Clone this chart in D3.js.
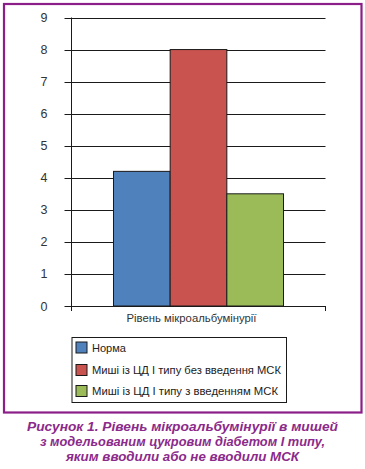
<!DOCTYPE html>
<html><head><meta charset="utf-8">
<script src="https://cdn.jsdelivr.net/npm/d3@7"></script>
<style>
html,body{margin:0;padding:0;background:#fff;}
svg{display:block;}
</style></head>
<body>
<script>
const categories = ["Рівень мікроальбумінурії"];
const seriesNames = ["Норма", "Миші із ЦД І типу без введення МСК", "Миші із ЦД І типу з введенням МСК"];
const seriesValues = [4.2, 8.0, 3.5];
const seriesColors = ["#4f81bd", "#c9534f", "#9bbb59"];
const yTicks = [0,1,2,3,4,5,6,7,8,9];
const captionLines = ["Рисунок 1. Рівень мікроальбумінурії в мишей", "з модельованим цукровим діабетом І типу,", "яким вводили або не вводили МСК"];

(function(){
const W = 365, H = 469;
const svg = d3.select("body").append("svg").attr("width", W).attr("height", H);
const font = "'Liberation Sans', Arial, sans-serif";

// frame
svg.append("rect").attr("x", 4).attr("y", 4).attr("width", 357.5).attr("height", 408.5)
  .attr("fill", "none").attr("stroke", "#8b1e88").attr("stroke-width", 2.2);

const pL = 71.5, pR = 325.5, pT = 17.5, pB = 306;
const y = d3.scaleLinear().domain([0, 9]).range([pB, pT]);
const x0 = d3.scaleBand().domain(categories).range([pL, pR]).paddingInner(0).paddingOuter(0.247);
const x1 = d3.scaleBand().domain(seriesNames).range([0, x0.bandwidth()]).padding(0);

// gridlines
svg.append("g").selectAll("line").data(yTicks).join("line")
  .attr("x1", pL - 7).attr("x2", pR)
  .attr("y1", d => Math.round(y(d)) + 0.5).attr("y2", d => Math.round(y(d)) + 0.5)
  .attr("stroke", "#1a1a1a").attr("stroke-width", 1);

// y axis line
svg.append("line").attr("x1", pL).attr("x2", pL).attr("y1", pT).attr("y2", pB + 5)
  .attr("stroke", "#1a1a1a").attr("stroke-width", 1);
// right bottom tick
svg.append("line").attr("x1", pR).attr("x2", pR).attr("y1", pB).attr("y2", pB + 5)
  .attr("stroke", "#1a1a1a").attr("stroke-width", 1);

// y tick labels
svg.append("g").selectAll("text").data(yTicks).join("text")
  .attr("x", 44).attr("y", d => y(d)).attr("dy", "0.36em")
  .attr("text-anchor", "middle").attr("font-family", font).attr("font-size", 12.5)
  .attr("fill", "#333").text(d => d);

// bars
const g = svg.append("g");
categories.forEach(c => {
  g.selectAll("rect.b").data(seriesValues).join("rect")
    .attr("class", "b")
    .attr("x", (d, i) => x0(c) + x1(seriesNames[i]))
    .attr("width", x1.bandwidth())
    .attr("y", d => y(d))
    .attr("height", d => y(0) - y(d))
    .attr("fill", (d, i) => seriesColors[i])
    .attr("stroke", "#1a1a1a").attr("stroke-width", 1);
});

// category label
svg.append("g").selectAll("text").data(categories).join("text")
  .attr("x", d => x0(d) + x0.bandwidth() / 2 - 7).attr("y", 322)
  .attr("text-anchor", "middle").attr("font-family", font).attr("font-size", 11.5)
  .attr("textLength", 130).attr("lengthAdjust", "spacingAndGlyphs")
  .attr("fill", "#333").text(d => d);

// legend
const lg = svg.append("g");
lg.append("rect").attr("x", 72).attr("y", 337.5).attr("width", 214.5).attr("height", 65)
  .attr("fill", "#fff").attr("stroke", "#1a1a1a").attr("stroke-width", 1);
const rowY = [347.5, 370, 391];
const textLens = [34, 189, 186];
seriesNames.forEach((n, i) => {
  lg.append("rect").attr("x", 76).attr("y", rowY[i] - 5.5).attr("width", 11).attr("height", 11)
    .attr("fill", seriesColors[i]).attr("stroke", "#1a1a1a").attr("stroke-width", 1);
  lg.append("text").attr("x", 92).attr("y", rowY[i]).attr("dy", "0.36em")
    .attr("font-family", font).attr("font-size", 11.5).attr("fill", "#222")
    .attr("textLength", textLens[i]).attr("lengthAdjust", "spacingAndGlyphs")
    .text(n);
});

// caption
const capLens = [311, 285, 233];
svg.append("g").selectAll("text").data(captionLines).join("text")
  .attr("x", 182.5).attr("y", (d, i) => 431 + i * 15)
  .attr("text-anchor", "middle").attr("font-family", font).attr("font-size", 13.5)
  .attr("font-weight", "bold").attr("font-style", "italic").attr("fill", "#8b2a8a")
  .attr("textLength", (d, i) => capLens[i]).attr("lengthAdjust", "spacingAndGlyphs")
  .text(d => d);
})();
</script>
</body></html>
